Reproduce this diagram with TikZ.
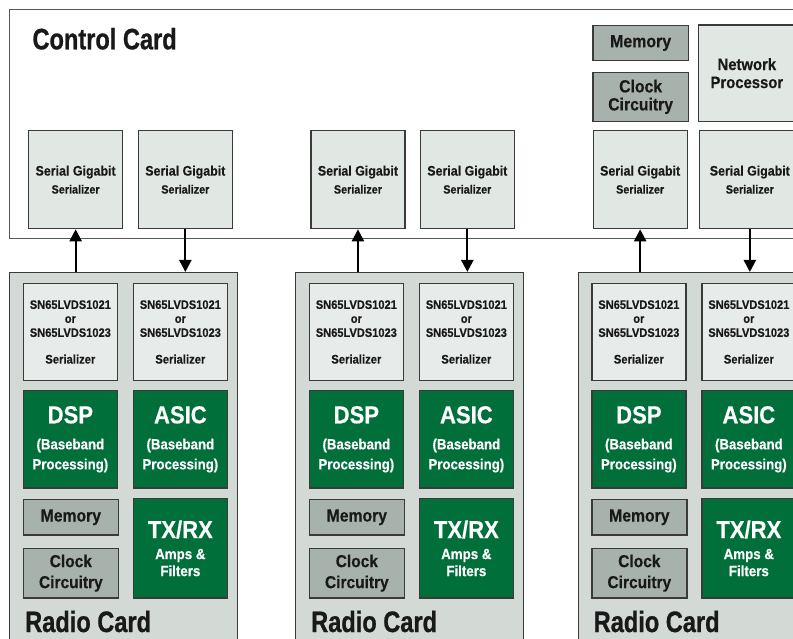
\documentclass[tikz,border=0pt]{standalone}
\usepackage{fontspec}
\setmainfont{Liberation Sans}
\newfontfamily\cn{Liberation Sans}[FakeStretch=0.9,BoldFeatures={FakeBold=0.4}]
\newfontfamily\cnt{Liberation Sans}[FakeStretch=0.8,BoldFeatures={FakeBold=0.8}]
\usetikzlibrary{arrows.meta}
\definecolor{ctrlser}{HTML}{E1E7E3}
\definecolor{radiobg}{HTML}{D3DAD6}
\definecolor{radioser}{HTML}{E7EBE9}
\definecolor{grn}{HTML}{006F3A}
\definecolor{gbox}{HTML}{A8B2AD}
\definecolor{edge}{HTML}{3A3A3A}
\newcommand{\fs}[2]{\fontsize{#1}{#2}\selectfont}
\newcommand{\bx}[7]{\node[#6, minimum width=#4pt, minimum height=#5pt, anchor=north west] (#1) at (#2,#3) {#7};}
\tikzset{
  base/.style={draw=edge, line width=1.3pt, inner sep=0pt, align=center, text=black!90},
  ctrlcard/.style={draw=edge!85, line width=1.4pt, fill=white, inner sep=0pt},
  radiocard/.style={draw=edge, line width=1.4pt, fill=radiobg, inner sep=0pt},
  cser/.style={base, fill=ctrlser},
  rser/.style={base, fill=radioser},
  gblock/.style={base, fill=grn, text=white},
  grey/.style={base, fill=gbox},
  f/.style n args={2}{font=\cn\bfseries\fontsize{#1}{#2}\selectfont},
  title/.style={font=\cnt\bfseries\fs{29.5}{30}, anchor=base west, inner sep=0pt, text=black!90},
  arr/.style={line width=2.2pt, -{Triangle[width=12pt,length=12pt]}}
}
\begin{document}
\begin{tikzpicture}[x=1pt,y=-1pt]
\useasboundingbox (0,0) rectangle (793,639);
\clip (0,0) rectangle (793,639);
% control card
\bx{cc}{9}{9}{820}{229}{ctrlcard}{}
\node[title] (cct) at (32.3,49.3) {Control Card};
\bx{mem0}{592.3}{24.7}{95.4}{35.3}{grey,f={17.7}{18}}{Memory}
\bx{clk0}{592.3}{71.7}{95.4}{49}{grey,f={17.5}{18}}{Clock\\Circuitry}
\bx{np}{697.7}{24.3}{97}{96.4}{cser,f={16.5}{18}}{Network\\Processor}
% control card serializers
\newcommand{\cstext}{\fs{13.8}{18}Serial Gigabit\\Serializer}
\tikzset{cs/.style={cser,f={12}{18}}}
\bx{cs1a}{28}{130}{94}{98}{cs}{\cstext}
\bx{cs1b}{137.7}{130}{94}{98}{cs}{\cstext}
\bx{cs2a}{310.3}{130}{94}{98}{cs}{\cstext}
\bx{cs2b}{419.7}{130}{94}{98}{cs}{\cstext}
\bx{cs3a}{592.5}{130}{94}{98}{cs}{\cstext}
\bx{cs3b}{698.7}{130}{101}{98}{cs}{\cstext}
% radio cards
\newcommand{\rstext}{SN65LVDS1021\\or\\SN65LVDS1023\\[12.7pt]\fs{12.5}{14}Serializer}
\newcommand{\dsptext}[1]{\fs{24.5}{26}#1\\[6pt](Baseband\\Processing)}
\newcommand{\txtext}{\fs{24.5}{26}TX/RX\\[4pt]Amps \&\\Filters}
\newcommand{\radiocard}[2]{%
  \bx{rc#1}{#2+9}{272}{228}{400}{radiocard}{}
  \bx{rsa#1}{#2+22.7}{282.7}{94}{97.3}{rser,f={12.3}{14}}{\rstext}
  \bx{rsb#1}{#2+132.7}{282.7}{94}{97.3}{rser,f={12.3}{14}}{\rstext}
  \bx{dsp#1}{#2+22.7}{390}{94}{97.3}{gblock,f={14.7}{20}}{\dsptext{DSP}}
  \bx{asic#1}{#2+132.7}{390}{94}{97.3}{gblock,f={14.7}{20}}{\dsptext{ASIC}}
  \bx{mem#1}{#2+22.7}{499}{95}{35.3}{grey,f={17.5}{18}}{Memory}
  \bx{clk#1}{#2+22.7}{547.7}{95}{49.6}{grey,f={17.2}{21}}{Clock\\Circuitry}
  \bx{tx#1}{#2+132.7}{498}{94}{99.3}{gblock,f={14.8}{17}}{\txtext}
  \node[title] (rct#1) at (#2+25,632) {Radio Card};
}
\radiocard{1}{0}
\radiocard{2}{286}
\radiocard{3}{568.5}
% connectors
\draw[arr] (cs1a.south |- rc1.north) -- (cs1a.south);
\draw[arr] (cs1b.south) -- (cs1b.south |- rc1.north);
\draw[arr] (cs2a.south |- rc2.north) -- (cs2a.south);
\draw[arr] (cs2b.south) -- (cs2b.south |- rc2.north);
\draw[arr] (cs3a.south |- rc3.north) -- (cs3a.south);
\draw[arr] (cs3b.south) -- (cs3b.south |- rc3.north);
\end{tikzpicture}
\end{document}
